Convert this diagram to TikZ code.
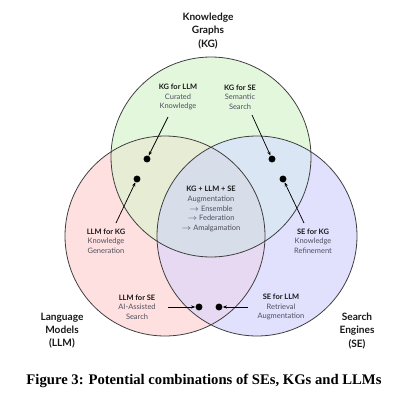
\documentclass[tikz,border=0pt]{standalone}
\usepackage{fontspec}
\setmainfont{Liberation Serif}
\newfontfamily\labfont{Lato}
\usetikzlibrary{arrows.meta}
\definecolor{kgc}{HTML}{E3F7DD}
\definecolor{llmc}{HTML}{FEE0E0}
\definecolor{sec}{HTML}{E1E0FD}
\definecolor{kgllm}{HTML}{E7ECD4}
\definecolor{kgse}{HTML}{DAE6F3}
\definecolor{llmse}{HTML}{E7D9F2}
\definecolor{allc}{HTML}{D8DDEA}
\definecolor{subc}{RGB}{80,80,95}
\tikzset{
  setc/.style={draw=black!75,line width=0.6pt},
  dot/.style={circle,fill=black,inner sep=0pt,minimum size=5.2pt},
  arr/.style={line width=0.55pt,-{Stealth[length=3.2pt,width=2.4pt]}},
  lab/.style={align=center,inner sep=0pt,text=subc,font=\labfont\fontsize{5.6}{7.2}\selectfont},
  big/.style={align=center,inner sep=0pt,text=black!90,font=\labfont\bfseries\fontsize{7.6}{9.8}\selectfont},
}
\newcommand{\hd}[1]{{\bfseries\color{black!90}#1}}
\begin{document}
\begin{tikzpicture}[x=0.75pt,y=-0.75pt]
\useasboundingbox (0,0) rectangle (400,400);
\fill[white] (0,0) rectangle (400,400);
% circles
\fill[llmc] (165,236) circle[radius=75pt];
\fill[sec] (257,236) circle[radius=75pt];
\fill[kgc] (211,157) circle[radius=75pt];
\begin{scope}
  \clip (211,157) circle[radius=75pt];
  \fill[kgllm] (165,236) circle[radius=75pt];
  \fill[kgse] (257,236) circle[radius=75pt];
\end{scope}
\begin{scope}
  \clip (165,236) circle[radius=75pt];
  \fill[llmse] (257,236) circle[radius=75pt];
  \clip (211,157) circle[radius=75pt];
  \fill[allc] (257,236) circle[radius=75pt];
\end{scope}
\draw[setc] (211,157) circle[radius=75pt];
\draw[setc] (165,236) circle[radius=75pt];
\draw[setc] (257,236) circle[radius=75pt];
% set titles
\node[big] (kg) at (208,31) {Knowledge\\Graphs\\(KG)};
\node[big] (llm) at (62,331) {Language\\Models\\(LLM)};
\node[big] (se) at (357,331) {Search\\Engines\\(SE)};
% labels
\node[lab] (t1) at (178,97) {\hd{KG for LLM}\\Curated\\Knowledge};
\node[lab] (t2) at (240,97) {\hd{KG for SE}\\Semantic\\Search};
\node[lab] (t3) at (106,241) {\hd{LLM for KG}\\Knowledge\\Generation};
\node[lab] (t4) at (313,241) {\hd{SE for KG}\\Knowledge\\Refinement};
\node[lab] (t5) at (211,209) {\hd{KG + LLM + SE}\\Augmentation\\$\rightarrow$ Ensemble\\$\rightarrow$ Federation\\$\rightarrow$ Amalgamation};
\node[lab] (t6) at (137,307) {\hd{LLM for SE}\\AI-Assisted\\Search};
\node[lab] (t7) at (281,307) {\hd{SE for LLM}\\Retrieval\\Augmentation};
% dots
\node[dot] (d1) at (147,159) {};
\node[dot] (d2) at (272,159) {};
\node[dot] (d3) at (137,179) {};
\node[dot] (d4) at (283,179) {};
\node[dot] (d5) at (199,307) {};
\node[dot] (d6) at (219,307) {};
% arrow starts
\coordinate (s1) at (168,117);
\coordinate (s2) at (252,115);
\coordinate (s3) at (116,223);
\coordinate (s4) at (304,223);
\coordinate (s5) at (168,307);
\coordinate (s6) at (248,307);
\draw[arr] (s1) -- (d1);
\draw[arr] (s2) -- (d2);
\draw[arr] (s3) -- (d3);
\draw[arr] (s4) -- (d4);
\draw[arr] (s5) -- (d5);
\draw[arr] (s6) -- (d6);
% caption
\node[inner sep=0pt,font=\bfseries\fontsize{11}{13}\selectfont] (cap) at (204,381) {Figure 3: Potential combinations of SEs, KGs and LLMs};
\end{tikzpicture}
\end{document}
